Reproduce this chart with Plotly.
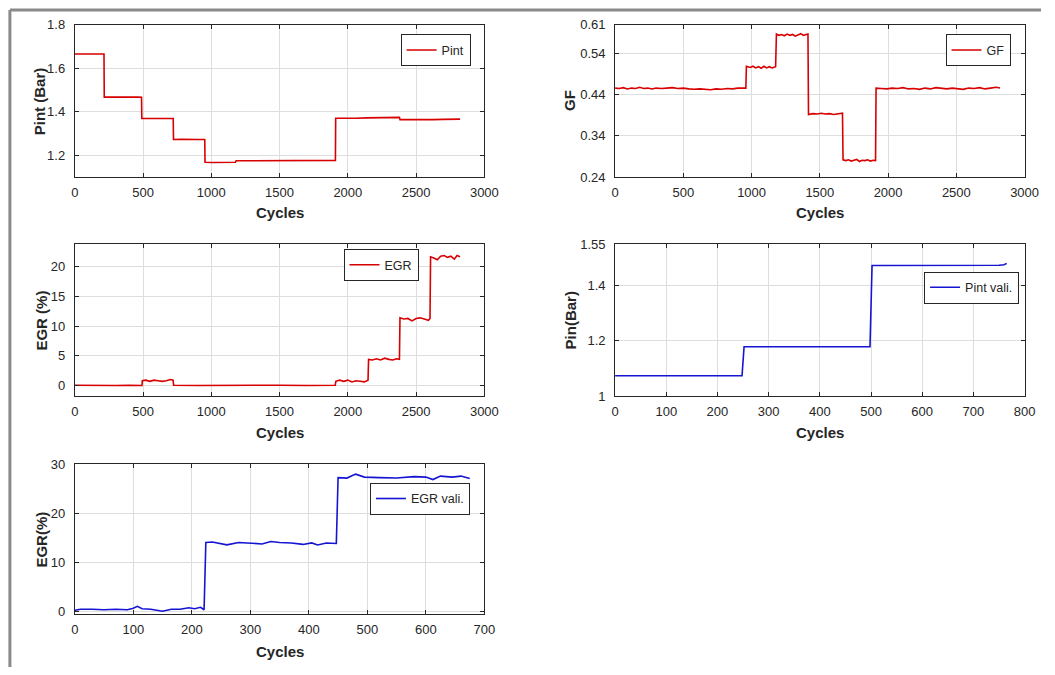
import plotly.graph_objects as go

# ---- measured series -------------------------------------------------------
# Intake pressure (Bar) over engine cycles
PINT_X = [0, 60, 120, 180, 214, 216, 280, 340, 400, 460, 489, 491, 550, 610,
          670, 721, 723, 780, 840, 900, 952, 954, 1010, 1070, 1130, 1176, 1182,
          1260, 1360, 1460, 1560, 1660, 1760, 1860, 1909, 1911, 1980, 2060,
          2140, 2220, 2300, 2378, 2382, 2460, 2540, 2620, 2700, 2780, 2822]
PINT_Y = [1.665, 1.666, 1.664, 1.665, 1.665, 1.467, 1.468, 1.466, 1.467, 1.468,
          1.467, 1.369, 1.370, 1.368, 1.369, 1.369, 1.273, 1.274, 1.272, 1.273,
          1.273, 1.168, 1.167, 1.168, 1.167, 1.168, 1.175, 1.175, 1.176, 1.177,
          1.177, 1.178, 1.177, 1.176, 1.177, 1.370, 1.369, 1.370, 1.372, 1.373,
          1.374, 1.374, 1.364, 1.363, 1.364, 1.364, 1.365, 1.366, 1.366]

# Gas fraction
GF_X = [0, 30, 60, 90, 120, 150, 180, 210, 240, 270, 300, 340, 380, 420, 460,
        500, 540, 580, 620, 660, 700, 740, 780, 820, 860, 900, 940, 958,
        962, 990, 1010, 1030, 1050, 1070, 1090, 1110, 1130, 1150, 1176,
        1182, 1200, 1220, 1240, 1260, 1280, 1300, 1320, 1340, 1360, 1380, 1400, 1413,
        1417, 1450, 1480, 1510, 1540, 1570, 1600, 1630, 1666,
        1670, 1690, 1710, 1730, 1750, 1770, 1790, 1810, 1830, 1850, 1870, 1890, 1908,
        1912, 1950, 1990, 2030, 2070, 2110, 2150, 2190, 2230, 2270, 2310, 2350,
        2390, 2430, 2470, 2510, 2550, 2590, 2630, 2670, 2710, 2750, 2790, 2820]
GF_Y = [0.456, 0.455, 0.457, 0.454, 0.456, 0.455, 0.458, 0.455, 0.456, 0.454,
        0.456, 0.455, 0.456, 0.457, 0.455, 0.456, 0.454, 0.453, 0.454, 0.453,
        0.452, 0.454, 0.453, 0.455, 0.454, 0.456, 0.455, 0.456,
        0.509, 0.506, 0.509, 0.505, 0.508, 0.504, 0.509, 0.505, 0.508, 0.505, 0.508,
        0.587, 0.584, 0.586, 0.583, 0.587, 0.584, 0.586, 0.582, 0.585, 0.588,
        0.584, 0.586, 0.587,
        0.392, 0.394, 0.393, 0.395, 0.393, 0.394, 0.392, 0.394, 0.395,
        0.282, 0.280, 0.282, 0.279, 0.281, 0.283, 0.278, 0.281, 0.280, 0.282,
        0.279, 0.281, 0.280,
        0.456, 0.455, 0.454, 0.456, 0.455, 0.457, 0.454, 0.455, 0.453, 0.456,
        0.454, 0.457, 0.455, 0.454, 0.456, 0.455, 0.453, 0.456, 0.455, 0.457,
        0.454, 0.456, 0.458, 0.456]

# EGR rate (%)
EGR_X = [0, 100, 200, 300, 400, 492,
         495, 520, 550, 580, 610, 640, 670, 700, 720,
         724, 900, 1100, 1300, 1500, 1700, 1908,
         1912, 1940, 1970, 2000, 2030, 2060, 2090, 2120, 2148,
         2152, 2180, 2210, 2240, 2270, 2300, 2330, 2355, 2378,
         2382, 2410, 2440, 2470, 2500, 2530, 2560, 2590, 2602,
         2606, 2630, 2655, 2680, 2705, 2730, 2755, 2780, 2800, 2822]
EGR_Y = [0.05, 0.0, 0.05, 0.0, 0.05, 0.0,
         0.8, 0.9, 0.7, 0.9, 0.8, 0.7, 0.8, 1.0, 0.9,
         0.05, 0.0, 0.05, 0.0, 0.05, 0.0, 0.05,
         0.7, 0.9, 0.7, 0.9, 0.6, 0.8, 0.7, 0.6, 0.9,
         4.4, 4.3, 4.5, 4.3, 4.6, 4.4, 4.3, 4.5, 4.4,
         11.4, 11.2, 11.3, 10.9, 11.3, 11.4, 11.2, 11.0, 11.3,
         21.7, 21.5, 21.2, 21.8, 21.9, 21.6, 21.8, 21.3, 21.9, 21.7]

# Validation runs
PVAL_X = [0, 50, 100, 150, 200, 248, 252, 300, 350, 400, 450, 498,
          502, 550, 600, 650, 700, 750, 760, 765]
PVAL_Y = [1.074, 1.074, 1.073, 1.074, 1.074, 1.074, 1.179, 1.179, 1.179, 1.180,
          1.179, 1.179, 1.473, 1.473, 1.474, 1.473, 1.473, 1.474, 1.476, 1.481]

EVAL_X = [0, 10, 30, 50, 70, 90, 100, 107, 115, 130, 150, 165, 180, 195, 205, 215, 221,
          224, 235, 250, 260, 280, 300, 320, 335, 350, 370, 390, 405, 415, 430, 447,
          450, 465, 480, 495, 520, 550, 580, 600, 612, 625, 645, 660, 675]
EVAL_Y = [0.3, 0.5, 0.5, 0.4, 0.5, 0.4, 0.7, 1.1, 0.6, 0.5, 0.1, 0.5, 0.5, 0.8, 0.6, 0.9, 0.4,
          14.1, 14.2, 13.8, 13.6, 14.1, 13.9, 13.8, 14.3, 14.1, 14.0, 13.7, 14.0, 13.6, 14.0, 13.9,
          27.3, 27.2, 28.0, 27.4, 27.3, 27.2, 27.5, 27.4, 26.9, 27.6, 27.4, 27.6, 27.1]

for xs, ys in [(PINT_X, PINT_Y), (GF_X, GF_Y), (EGR_X, EGR_Y),
               (PVAL_X, PVAL_Y), (EVAL_X, EVAL_Y)]:
    assert len(xs) == len(ys)

# ---- axis ticks --------------------------------------------------------------
X_TICKS_LONG = [0, 500, 1000, 1500, 2000, 2500, 3000]
X_TICKS_PVAL = [0, 100, 200, 300, 400, 500, 600, 700, 800]
X_TICKS_EVAL = [0, 100, 200, 300, 400, 500, 600, 700]
Y_TICKS_PINT = [1.2, 1.4, 1.6, 1.8]
Y_TICKS_GF = [0.24, 0.34, 0.44, 0.54, 0.61]
Y_TICKS_EGR = [0, 5, 10, 15, 20]
Y_TICKS_PVAL = [1, 1.2, 1.4, 1.55]
Y_TICKS_EVAL = [0, 10, 20, 30]

# ---- page geometry (pixels) ---------------------------------------------------
W, H = 1055, 675
RED = "#d80000"
BLUE = "#1414d2"
INK = "#262626"
FONT = "Liberation Sans, Arial, sans-serif"


def fx(px):
    return px / W


def fy(py):
    return 1 - py / H


# plot box (left, right, top, bottom), y-title centre x, x-title centre y
panels = [
    dict(box=(72, 488.7, 18, 174), ytx=36, xty=210, xr=[0, 3000], yr=[1.1, 1.8],
         xt=X_TICKS_LONG, yt=Y_TICKS_PINT, ytitle="Pint (Bar)",
         x=PINT_X, y=PINT_Y, name="Pint", color=RED, leg=(474.7, 28)),
    dict(box=(621.7, 1038.3, 18, 174), ytx=576, xty=210, xr=[0, 3000], yr=[0.24, 0.61],
         xt=X_TICKS_LONG, yt=Y_TICKS_GF, ytitle="GF",
         x=GF_X, y=GF_Y, name="GF", color=RED, leg=(1024, 28)),
    dict(box=(72, 488.7, 242.7, 398), ytx=38, xty=435, xr=[0, 3000], yr=[-1.8, 23.8],
         xt=X_TICKS_LONG, yt=Y_TICKS_EGR, ytitle="EGR (%)",
         x=EGR_X, y=EGR_Y, name="EGR", color=RED, leg=(421.7, 247.7)),
    dict(box=(621.7, 1038.3, 242.7, 398), ytx=576, xty=435, xr=[0, 800], yr=[1, 1.55],
         xt=X_TICKS_PVAL, yt=Y_TICKS_PVAL, ytitle="Pin(Bar)",
         x=PVAL_X, y=PVAL_Y, name="Pint vali.", color=BLUE, leg=(1032.7, 270.7)),
    dict(box=(72, 488.7, 467.7, 621), ytx=38, xty=659, xr=[0, 700], yr=[-0.5, 30],
         xt=X_TICKS_EVAL, yt=Y_TICKS_EVAL, ytitle="EGR(%)",
         x=EVAL_X, y=EVAL_Y, name="EGR vali.", color=BLUE, leg=(474, 486.7)),
]

fig = go.Figure()
layout = dict(
    width=W, height=H,
    margin=dict(l=0, r=0, t=0, b=0),
    paper_bgcolor="white", plot_bgcolor="white",
    font=dict(family=FONT, size=13, color=INK),
    showlegend=True,
)

axis_common = dict(
    showline=True, linecolor=INK, linewidth=1, mirror="ticks",
    ticks="inside", ticklen=4, tickcolor=INK,
    showgrid=True, gridcolor="#dedede", gridwidth=1,
    zeroline=False, tickfont=dict(family=FONT, size=13, color=INK),
)

annotations = []
title_font = dict(family=FONT, size=15, color=INK)

for i, p in enumerate(panels, start=1):
    sfx = "" if i == 1 else str(i)
    l, r, t, b = p["box"]
    layout["xaxis" + sfx] = dict(
        axis_common, domain=[fx(l), fx(r)], range=p["xr"],
        tickvals=p["xt"], anchor="y" + sfx, ticklabelstandoff=3,
    )
    layout["yaxis" + sfx] = dict(
        axis_common, domain=[fy(b), fy(t)], range=p["yr"],
        tickvals=p["yt"], anchor="x" + sfx, ticklabelstandoff=6,
    )
    # axis titles
    annotations.append(dict(
        text="<b>Cycles</b>", xref="paper", yref="paper",
        x=fx((l + r) / 2), y=fy(p["xty"]), xanchor="center", yanchor="middle",
        showarrow=False, font=title_font,
    ))
    annotations.append(dict(
        text="<b>" + p["ytitle"] + "</b>", xref="paper", yref="paper",
        x=fx(p["ytx"]), y=fy((t + b) / 2), xanchor="center", yanchor="middle",
        textangle=-90, showarrow=False, font=title_font,
    ))
    lx, ly = p["leg"]
    layout["legend" + sfx] = dict(
        x=fx(lx), y=fy(ly), xanchor="right", yanchor="top",
        bgcolor="white", bordercolor=INK, borderwidth=1,
        font=dict(family=FONT, size=12.5, color=INK),
    )
    fig.add_trace(go.Scatter(
        x=p["x"], y=p["y"], mode="lines", name=p["name"],
        line=dict(color=p["color"], width=1.6),
        xaxis="x" + sfx, yaxis="y" + sfx, legend="legend" + sfx,
    ))

layout["annotations"] = annotations

# outer figure frame (left and top edges)
layout["shapes"] = [
    dict(type="line", xref="paper", yref="paper",
         x0=fx(6), x1=fx(6), y0=fy(3), y1=0,
         line=dict(color="#8a8a8a", width=3)),
    dict(type="line", xref="paper", yref="paper",
         x0=fx(6), x1=1, y0=fy(3), y1=fy(3),
         line=dict(color="#8a8a8a", width=3)),
]

fig.update_layout(**layout)
fig.write_html("out.html")
